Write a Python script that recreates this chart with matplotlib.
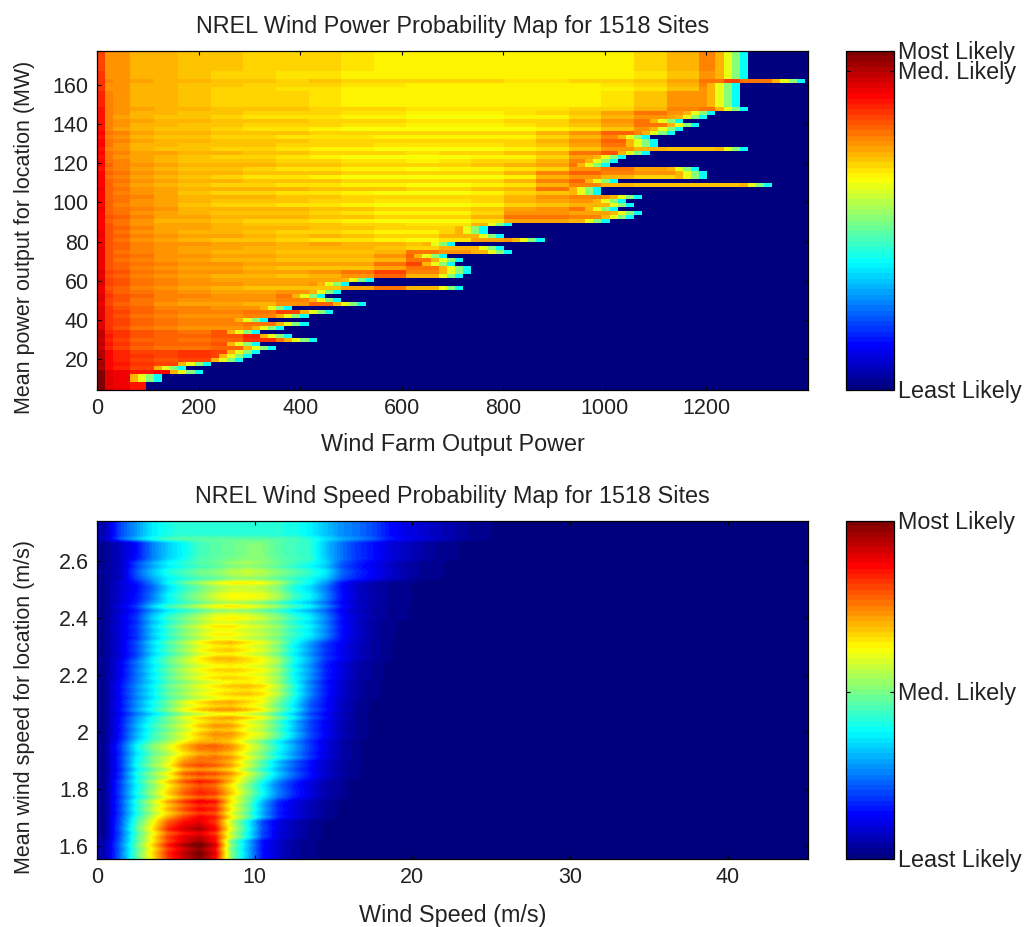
# -*- coding: utf-8 -*-
import numpy as np
import matplotlib
matplotlib.use("Agg")
import matplotlib.pyplot as plt
from matplotlib.colors import LinearSegmentedColormap
from matplotlib.transforms import ScaledTranslation

plt.rcParams['font.family'] = ['Liberation Sans', 'DejaVu Sans']

# ================= data =================
# upper map: right end (MW) of every row, bottom row first
power_edges = [100, 100, 127, 127, 213, 173, 226, 281, 297, 324,
               354, 314, 426, 383, 314, 370, 413, 340, 413, 468,
               380, 527, 472, 450, 482, 724, 490, 537, 720, 734,
               734, 700, 724, 690, 823, 806, 700, 875, 806, 764,
               764, 823, 1003, 1062, 1075, 1020, 1062, 1046, 1075, 990,
               1000, 1328, 1020, 1203, 1203, 1177, 1006, 1030, 1046, 1089,
               1276, 1100, 1105, 1089, 1131, 1147, 1177, 1147, 1203, 1220,
               1276, 1260, 1260, 1260, 1260, 1260, 1265, 1397, 1287, 1287,
               1287, 1287, 1287, 1287, 1287]

# left end (MW) of the columns of the level table
power_columns = [0, 16, 32, 64, 112, 160, 224, 288, 352, 416, 480, 544,
                 608, 672, 736, 800, 864, 928, 992, 1056, 1120, 1184, 1232, 1264]

# colour level per band of 5 rows, bottom band first
power_levels = [
    [1.00, .90, .88, .85, .86, .80, .72, .72, .72, .72, .72, .72, .72, .72, .72, .72, .72, .72, .72, .72, .72, .72, .72, .72],
    [.95, .87, .84, .81, .80, .82, .80, .74, .72, .72, .72, .72, .72, .72, .72, .72, .72, .72, .72, .72, .72, .72, .72, .72],
    [.92, .84, .81, .78, .77, .76, .78, .82, .76, .72, .72, .72, .72, .72, .72, .72, .72, .72, .72, .72, .72, .72, .72, .72],
    [.90, .82, .80, .77, .75, .74, .73, .75, .80, .76, .72, .72, .72, .72, .72, .72, .72, .72, .72, .72, .72, .72, .72, .72],
    [.89, .81, .78, .76, .74, .73, .72, .72, .74, .79, .74, .72, .72, .72, .72, .72, .72, .72, .72, .72, .72, .72, .72, .72],
    [.89, .80, .78, .75, .74, .72, .71, .70, .70, .71, .74, .79, .72, .72, .72, .72, .72, .72, .72, .72, .72, .72, .72, .72],
    [.88, .79, .77, .75, .73, .72, .71, .70, .69, .69, .69, .72, .77, .74, .72, .72, .72, .72, .72, .72, .72, .72, .72, .72],
    [.88, .79, .77, .74, .72, .71, .70, .69, .68, .68, .67, .66, .65, .68, .74, .76, .72, .72, .72, .72, .72, .72, .72, .72],
    [.87, .78, .76, .73, .71, .70, .69, .68, .68, .67, .66, .65, .64, .64, .68, .74, .74, .72, .72, .72, .72, .72, .72, .72],
    [.87, .77, .75, .73, .71, .69, .68, .68, .67, .66, .65, .64, .64, .64, .65, .68, .70, .72, .70, .70, .70, .70, .70, .70],
    [.87, .77, .75, .72, .70, .69, .68, .67, .67, .66, .65, .65, .64, .64, .65, .67, .72, .76, .72, .70, .70, .70, .70, .70],
    [.86, .76, .74, .71, .70, .68, .68, .67, .66, .65, .64, .64, .63, .64, .65, .66, .68, .73, .77, .72, .70, .70, .70, .70],
    [.86, .75, .73, .70, .69, .68, .67, .67, .66, .65, .65, .64, .64, .64, .64, .65, .67, .70, .75, .72, .70, .70, .70, .70],
    [.85, .74, .72, .70, .69, .68, .67, .66, .66, .65, .64, .64, .63, .63, .63, .64, .65, .67, .70, .74, .72, .70, .70, .70],
    [.84, .74, .72, .70, .69, .68, .67, .66, .66, .65, .64, .64, .63, .63, .63, .63, .63, .64, .65, .68, .72, .73, .72, .70],
    [.82, .73, .72, .70, .69, .68, .67, .66, .65, .65, .64, .64, .63, .63, .63, .625, .625, .63, .635, .65, .68, .73, .77, .72],
    [.80, .73, .72, .70, .69, .68, .68, .67, .66, .66, .65, .64, .64, .63, .63, .625, .625, .63, .64, .66, .70, .74, .77, .72],
]

# per row shift of the colour level, bottom row first
power_streak = [0, 0, .01, -.01, .01, 0, .02, -.02, .01, 0,
                -.02, .03, -.01, .02, .01, -.02, .02, .01, -.02, .01,
                .02, -.03, .01, .02, -.01, -.03, .02, .01, -.02, .02,
                -.01, .03, -.02, .01, -.02, .02, .03, -.03, .01, -.02,
                .02, .01, -.03, .02, -.01, .03, -.02, .01, .02, -.02,
                .03, -.02, .02, -.03, .02, -.01, .03, .01, -.02, .02,
                -.02, .01, .02, -.01, .02, -.02, .01, .02, -.01, .01,
                .02, 0, 0, 0, 0, 0, .01, .03, 0, 0,
                0, 0, 0, 0, 0]

# how strongly the shift shows in each column of the level table
streak_weight = [.2, .2, .3, .3, .3, .4, .5, .6, .7, .8, .9, 1, 1, 1, 1, 1, 1, 1, 1, 1, 1, 1, 1, 1]

# colours towards the end of a row, outermost cell first
tip_levels = [.38, .50, .60, .70]
# the lowest rows end without that fade
rows_without_tip = 2

# lower map: colour level per 1 m/s column, band of 5 rows, bottom band first
speed_levels = [
    [.05, .24, .46, .64, .82, .92, .99, .88, .50, .32, .14, .08, .04, .02, .01, 0, 0, 0, 0, 0, 0, 0, 0, 0, 0, 0],
    [.03, .22, .45, .62, .80, .88, .92, .84, .58, .40, .20, .10, .06, .03, .01, 0, 0, 0, 0, 0, 0, 0, 0, 0, 0, 0],
    [.03, .20, .40, .55, .68, .78, .85, .82, .62, .48, .30, .16, .10, .06, .03, .01, 0, 0, 0, 0, 0, 0, 0, 0, 0, 0],
    [.03, .20, .38, .52, .65, .76, .82, .79, .66, .52, .38, .25, .16, .10, .05, .03, 0, 0, 0, 0, 0, 0, 0, 0, 0, 0],
    [.03, .18, .38, .50, .60, .74, .78, .76, .70, .58, .45, .32, .22, .14, .08, .04, .02, 0, 0, 0, 0, 0, 0, 0, 0, 0],
    [.03, .18, .36, .48, .56, .66, .73, .74, .70, .60, .50, .38, .28, .18, .10, .05, .02, 0, 0, 0, 0, 0, 0, 0, 0, 0],
    [.03, .15, .30, .42, .50, .58, .66, .71, .70, .62, .56, .45, .32, .20, .12, .06, .03, .01, 0, 0, 0, 0, 0, 0, 0, 0],
    [.03, .14, .27, .38, .48, .58, .64, .68, .69, .65, .60, .48, .36, .22, .14, .07, .03, .01, 0, 0, 0, 0, 0, 0, 0, 0],
    [.03, .14, .26, .36, .46, .52, .58, .62, .65, .66, .63, .54, .40, .26, .15, .08, .04, .02, .01, 0, 0, 0, 0, 0, 0, 0],
    [.03, .12, .24, .36, .46, .54, .60, .64, .65, .63, .60, .52, .38, .28, .16, .10, .05, .03, .01, 0, 0, 0, 0, 0, 0, 0],
    [.03, .10, .20, .34, .44, .52, .60, .65, .66, .62, .58, .50, .38, .28, .18, .12, .07, .04, .02, 0, 0, 0, 0, 0, 0, 0],
    [.03, .10, .18, .32, .42, .50, .56, .62, .62, .58, .55, .50, .42, .36, .26, .14, .08, .04, .02, .01, 0, 0, 0, 0, 0, 0],
    [.03, .10, .18, .32, .42, .48, .54, .60, .62, .60, .56, .50, .42, .36, .26, .14, .08, .05, .03, .02, .01, 0, 0, 0, 0, 0],
    [.03, .09, .14, .24, .36, .44, .50, .56, .60, .60, .58, .52, .42, .36, .26, .14, .08, .05, .03, .02, .01, 0, 0, 0, 0, 0],
    [.03, .07, .20, .30, .38, .42, .46, .48, .52, .54, .52, .48, .44, .40, .34, .22, .16, .12, .08, .05, .03, .02, .01, 0, 0, 0],
    [.03, .07, .14, .25, .33, .38, .44, .46, .48, .50, .50, .46, .44, .42, .32, .24, .18, .14, .10, .07, .05, .03, .02, .01, 0, 0],
    [.06, .20, .28, .36, .40, .42, .42, .42, .42, .42, .42, .41, .40, .37, .32, .27, .24, .20, .14, .11, .09, .07, .05, .03, .02, .01],
]

# per row gain of the colour level, bottom row first
speed_streak = [1.00, 1.02, .98, 1.04, .97, 1.02, .96, 1.04, 1.00, .97,
                1.04, .96, 1.03, .98, 1.05, .95, 1.03, 1.00, .96, 1.04,
                .97, 1.05, .93, 1.03, .98, 1.04, .96, 1.03, 1.05, .95,
                1.00, 1.04, .96, 1.03, .95, 1.04, .88, 1.07, .97, 1.03,
                .96, 1.04, .98, 1.05, .95, 1.03, .97, 1.04, .96, 1.03,
                1.06, .95, 1.03, .97, 1.05, .96, 1.03, .98, 1.05, .95,
                1.03, .97, .84, 1.05, .88, 1.03, 1.04, .97, .95, 1.07,
                .96, 1.04, 1.06, .95, 1.00, 1.02, 1.00, 1.00, 1.00, 1.00,
                1.12, 1.00, 1.00, 1.00, 1.00]

power_xticks = [0, 200, 400, 600, 800, 1000, 1200]
power_yticks = [20, 40, 60, 80, 100, 120, 140, 160]
speed_xticks = [0, 10, 20, 30, 40]
speed_yticks = [1.6, 1.8, 2, 2.2, 2.4, 2.6]
speed_yticklabels = ['1.6', '1.8', '2', '2.2', '2.4', '2.6']

power_cbar_ticks = [0, 0.94, 1]
speed_cbar_ticks = [0, 0.494, 1]
cbar_labels = ['Least Likely', 'Med. Likely', 'Most Likely']

# ================= build the two maps =================
power_cols = 88
cell = 16
Z_power = np.zeros((len(power_edges), power_cols))
for i, edge in enumerate(power_edges):
    n = int(round(edge / cell))
    for c in range(n):
        col = np.searchsorted(power_columns, c * cell, side='right') - 1
        Z_power[i, c] = power_levels[i // 5][col] + power_streak[i] * streak_weight[col]
    if i >= rows_without_tip:
        for k, tip in enumerate(tip_levels):
            Z_power[i, n - 1 - k] = tip

Z_speed = np.array([np.array(speed_levels[i // 5]) * g for i, g in enumerate(speed_streak)])
Z_speed = np.hstack([Z_speed, np.zeros((Z_speed.shape[0], 20))])

# MATLAB jet with 64 steps
jet64 = LinearSegmentedColormap.from_list(
    'jet64',
    [(0, (0, 0, .5)), (.125, (0, 0, 1)), (.375, (0, 1, 1)),
     (.625, (1, 1, 0)), (.875, (1, 0, 0)), (1, (.5, 0, 0))], N=64)

# ================= plot =================
W, H = 1026, 927
fig = plt.figure(figsize=(W / 100, H / 100), dpi=100)
fs = 15.5       # ticks and vertical labels
fs_wide = 16.8  # the horizontal texts are wider in the picture
ink = '#222222'


def box(x0, y0, x1, y1):
    return fig.add_axes([x0 / W, 1 - y1 / H, (x1 - x0) / W, (y1 - y0) / H])


def style(ax):
    ax.tick_params(direction='in', length=3, width=0.8, top=True, right=True,
                   labelsize=fs, pad=6, labelcolor=ink)
    for s in ax.spines.values():
        s.set_linewidth(0.9)


ax1 = box(97, 51, 808, 390)
im1 = ax1.imshow(Z_power, origin='lower', aspect='auto', cmap=jet64, vmin=0, vmax=1,
                 extent=[0, power_cols * cell, 4.2, 177.4], interpolation='nearest')
ax1.set_xlim(0, 1400)
ax1.set_ylim(4.2, 177.4)
ax1.set_xticks(power_xticks)
ax1.set_yticks(power_yticks)
style(ax1)
ax1.set_title('NREL Wind Power Probability Map for 1518 Sites', fontsize=fs_wide, pad=13, color=ink)
ax1.set_xlabel('Wind Farm Output Power', fontsize=fs_wide, labelpad=10, color=ink)
ax1.set_ylabel('Mean power output for location (MW)', fontsize=fs, color=ink)
ax1.yaxis.set_label_coords(-0.087, 0.45)

ax2 = box(97, 521, 808, 859)
im2 = ax2.imshow(Z_speed, origin='lower', aspect='auto', cmap=jet64, vmin=0, vmax=1,
                 extent=[0, Z_speed.shape[1], 1.554, 2.74], interpolation='bilinear')
ax2.set_xlim(0, 45.1)
ax2.set_ylim(1.554, 2.74)
ax2.set_xticks(speed_xticks)
ax2.set_yticks(speed_yticks)
ax2.set_yticklabels(speed_yticklabels)
style(ax2)
ax2.set_title('NREL Wind Speed Probability Map for 1518 Sites', fontsize=fs_wide, pad=13, color=ink)
ax2.set_xlabel('Wind Speed (m/s)', fontsize=fs_wide, labelpad=11, color=ink)
ax2.set_ylabel('Mean wind speed for location (m/s)', fontsize=fs, color=ink)
ax2.yaxis.set_label_coords(-0.087, 0.45)

nudge = ScaledTranslation(0, 1 / 100, fig.dpi_scale_trans)
for im, (y0, y1), ticks in [(im1, (51, 390), power_cbar_ticks), (im2, (521, 859), speed_cbar_ticks)]:
    cax = box(846, y0, 894, y1)
    cb = fig.colorbar(im, cax=cax, ticks=ticks)
    cb.ax.set_yticklabels(cbar_labels)
    cb.ax.tick_params(direction='in', length=3, width=0.8, left=True, right=True,
                      labelsize=fs_wide, pad=3, labelcolor=ink)
    for t in cb.ax.get_yticklabels():
        t.set_transform(t.get_transform() + nudge)
    cb.outline.set_linewidth(0.9)

fig.savefig('out.png', dpi=100)
